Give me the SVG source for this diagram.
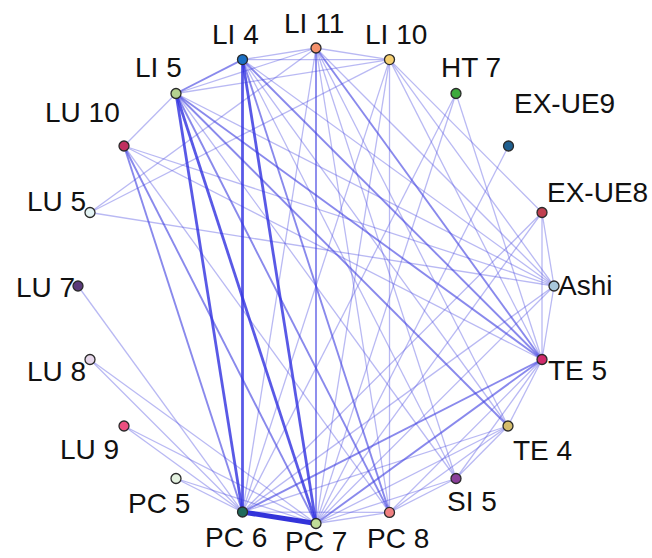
<svg xmlns="http://www.w3.org/2000/svg" width="652" height="558" viewBox="0 0 652 558">
<style>
.e1{stroke:#5050e0;stroke-opacity:0.4;stroke-width:1.3;fill:none}
.e2{stroke:#4040e0;stroke-opacity:0.62;stroke-width:1.9;fill:none}
.e3{stroke:#3535e0;stroke-opacity:0.82;stroke-width:2.8;fill:none}
.e4{stroke:#2828d8;stroke-opacity:0.95;stroke-width:5;fill:none}
.n{stroke:#2a2a2a;stroke-width:1.3}
.t{font-family:"Liberation Sans",Arial,sans-serif;font-size:28px;fill:#111}
</style>
<rect width="652" height="558" fill="#ffffff"/>
<g id="connectors">
<line class="e1" x1="242.5" y1="59.6" x2="316" y2="48"/>
<line class="e1" x1="242.5" y1="59.6" x2="389.5" y2="59.6"/>
<line class="e1" x1="176" y1="93.5" x2="316" y2="48"/>
<line class="e1" x1="176" y1="93.5" x2="389.5" y2="59.6"/>
<line class="e1" x1="316" y1="48" x2="389.5" y2="59.6"/>
<line class="e1" x1="124" y1="146" x2="176" y2="93.5"/>
<line class="e1" x1="242.5" y1="59.6" x2="456" y2="478.5"/>
<line class="e1" x1="242.5" y1="59.6" x2="508" y2="426"/>
<line class="e1" x1="242.5" y1="59.6" x2="554" y2="286"/>
<line class="e1" x1="176" y1="93.5" x2="456" y2="478.5"/>
<line class="e1" x1="176" y1="93.5" x2="554" y2="286"/>
<line class="e1" x1="316" y1="48" x2="242.5" y2="512"/>
<line class="e1" x1="316" y1="48" x2="389.5" y2="512.4"/>
<line class="e1" x1="316" y1="48" x2="456" y2="478.5"/>
<line class="e1" x1="316" y1="48" x2="508" y2="426"/>
<line class="e1" x1="316" y1="48" x2="554" y2="286"/>
<line class="e1" x1="389.5" y1="59.6" x2="242.5" y2="512"/>
<line class="e1" x1="389.5" y1="59.6" x2="316" y2="523.5"/>
<line class="e1" x1="389.5" y1="59.6" x2="389.5" y2="512.4"/>
<line class="e1" x1="389.5" y1="59.6" x2="542" y2="359.5"/>
<line class="e1" x1="389.5" y1="59.6" x2="554" y2="286"/>
<line class="e1" x1="389.5" y1="59.6" x2="542" y2="212.5"/>
<line class="e1" x1="124" y1="146" x2="389.5" y2="512.4"/>
<line class="e1" x1="124" y1="146" x2="542" y2="359.5"/>
<line class="e1" x1="124" y1="146" x2="554" y2="286"/>
<line class="e1" x1="90" y1="212.5" x2="389.5" y2="59.6"/>
<line class="e1" x1="90" y1="212.5" x2="316" y2="48"/>
<line class="e1" x1="90" y1="212.5" x2="554" y2="286"/>
<line class="e1" x1="78" y1="286" x2="242.5" y2="512"/>
<line class="e1" x1="90" y1="359.5" x2="242.5" y2="512"/>
<line class="e1" x1="90" y1="359.5" x2="316" y2="523.5"/>
<line class="e1" x1="124" y1="426" x2="242.5" y2="512"/>
<line class="e1" x1="124" y1="426" x2="316" y2="523.5"/>
<line class="e1" x1="176" y1="478.5" x2="242.5" y2="512"/>
<line class="e1" x1="176" y1="478.5" x2="316" y2="523.5"/>
<line class="e1" x1="242.5" y1="512" x2="508" y2="426"/>
<line class="e1" x1="242.5" y1="512" x2="542" y2="212.5"/>
<line class="e1" x1="242.5" y1="512" x2="554" y2="286"/>
<line class="e1" x1="242.5" y1="512" x2="456" y2="93.5"/>
<line class="e1" x1="242.5" y1="512" x2="389.5" y2="512.4"/>
<line class="e1" x1="316" y1="523.5" x2="508" y2="426"/>
<line class="e1" x1="316" y1="523.5" x2="456" y2="478.5"/>
<line class="e1" x1="316" y1="523.5" x2="542" y2="212.5"/>
<line class="e1" x1="316" y1="523.5" x2="554" y2="286"/>
<line class="e1" x1="316" y1="523.5" x2="456" y2="93.5"/>
<line class="e1" x1="316" y1="523.5" x2="508.5" y2="146"/>
<line class="e1" x1="316" y1="523.5" x2="389.5" y2="512.4"/>
<line class="e1" x1="389.5" y1="512.4" x2="542" y2="359.5"/>
<line class="e1" x1="389.5" y1="512.4" x2="508" y2="426"/>
<line class="e1" x1="389.5" y1="512.4" x2="456" y2="478.5"/>
<line class="e1" x1="542" y1="359.5" x2="508" y2="426"/>
<line class="e1" x1="542" y1="359.5" x2="456" y2="478.5"/>
<line class="e1" x1="542" y1="359.5" x2="554" y2="286"/>
<line class="e1" x1="542" y1="359.5" x2="542" y2="212.5"/>
<line class="e1" x1="542" y1="359.5" x2="456" y2="93.5"/>
<line class="e1" x1="456" y1="478.5" x2="508" y2="426"/>
<line class="e1" x1="554" y1="286" x2="542" y2="212.5"/>
<line class="e2" x1="242.5" y1="59.6" x2="176" y2="93.5"/>
<line class="e2" x1="242.5" y1="59.6" x2="389.5" y2="512.4"/>
<line class="e2" x1="242.5" y1="59.6" x2="542" y2="359.5"/>
<line class="e2" x1="176" y1="93.5" x2="389.5" y2="512.4"/>
<line class="e2" x1="176" y1="93.5" x2="508" y2="426"/>
<line class="e2" x1="176" y1="93.5" x2="542" y2="359.5"/>
<line class="e2" x1="316" y1="48" x2="316" y2="523.5"/>
<line class="e2" x1="316" y1="48" x2="542" y2="359.5"/>
<line class="e2" x1="124" y1="146" x2="242.5" y2="512"/>
<line class="e2" x1="124" y1="146" x2="316" y2="523.5"/>
<line class="e2" x1="242.5" y1="512" x2="542" y2="359.5"/>
<line class="e2" x1="316" y1="523.5" x2="542" y2="359.5"/>
<line class="e3" x1="242.5" y1="59.6" x2="242.5" y2="512"/>
<line class="e3" x1="242.5" y1="59.6" x2="316" y2="523.5"/>
<line class="e3" x1="176" y1="93.5" x2="242.5" y2="512"/>
<line class="e3" x1="176" y1="93.5" x2="316" y2="523.5"/>
<line class="e4" x1="242.5" y1="512" x2="316" y2="523.5"/>
</g>
<g id="LI11"><circle class="n" cx="316" cy="48" r="5" fill="#f4906a"/><text class="t" x="284" y="33">LI 11</text></g>
<g id="LI10"><circle class="n" cx="389.5" cy="59.6" r="5" fill="#f7d070"/><text class="t" x="365" y="44">LI 10</text></g>
<g id="HT7"><circle class="n" cx="456" cy="93.5" r="5" fill="#3daa3d"/><text class="t" x="441" y="77">HT 7</text></g>
<g id="EXUE9"><circle class="n" cx="508.5" cy="146" r="5" fill="#1f5f8f"/><text class="t" x="514" y="113">EX-UE9</text></g>
<g id="EXUE8"><circle class="n" cx="542" cy="212.5" r="5" fill="#c04050"/><text class="t" x="547" y="202">EX-UE8</text></g>
<g id="Ashi"><circle class="n" cx="554" cy="286" r="5" fill="#a8c8dc"/><text class="t" x="558" y="295">Ashi</text></g>
<g id="TE5"><circle class="n" cx="542" cy="359.5" r="5" fill="#d02a6a"/><text class="t" x="548" y="380">TE 5</text></g>
<g id="TE4"><circle class="n" cx="508" cy="426" r="5" fill="#d4bc6a"/><text class="t" x="513" y="460">TE 4</text></g>
<g id="SI5"><circle class="n" cx="456" cy="478.5" r="5" fill="#8a3f9a"/><text class="t" x="447" y="511">SI 5</text></g>
<g id="PC8"><circle class="n" cx="389.5" cy="512.4" r="5" fill="#f08080"/><text class="t" x="367" y="548">PC 8</text></g>
<g id="PC7"><circle class="n" cx="316" cy="523.5" r="5" fill="#c0dc98"/><text class="t" x="285" y="551">PC 7</text></g>
<g id="PC6"><circle class="n" cx="242.5" cy="512" r="5" fill="#1f6a5a"/><text class="t" x="205" y="547">PC 6</text></g>
<g id="PC5"><circle class="n" cx="176" cy="478.5" r="5" fill="#e4f2e0"/><text class="t" x="128" y="513">PC 5</text></g>
<g id="LU9"><circle class="n" cx="124" cy="426" r="5" fill="#ec5080"/><text class="t" x="60" y="459">LU 9</text></g>
<g id="LU8"><circle class="n" cx="90" cy="359.5" r="5" fill="#e8d8ec"/><text class="t" x="27" y="381">LU 8</text></g>
<g id="LU7"><circle class="n" cx="78" cy="286" r="5" fill="#5a3a7a"/><text class="t" x="16" y="297">LU 7</text></g>
<g id="LU5"><circle class="n" cx="90" cy="212.5" r="5" fill="#e4f4f4"/><text class="t" x="27" y="211">LU 5</text></g>
<g id="LU10"><circle class="n" cx="124" cy="146" r="5" fill="#c03060"/><text class="t" x="45" y="122">LU 10</text></g>
<g id="LI5"><circle class="n" cx="176" cy="93.5" r="5" fill="#b5d190"/><text class="t" x="135" y="77">LI 5</text></g>
<g id="LI4"><circle class="n" cx="242.5" cy="59.6" r="5" fill="#1a6fc4"/><text class="t" x="212" y="44">LI 4</text></g>
</svg>
